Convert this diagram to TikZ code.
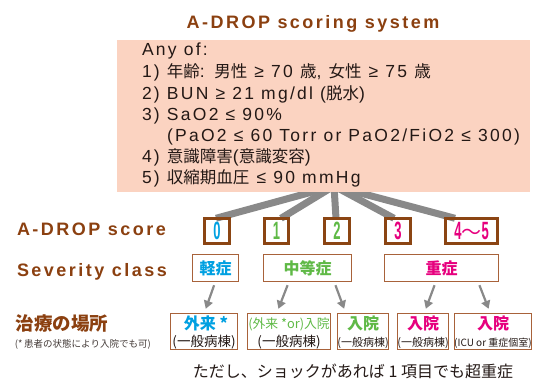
\documentclass[tikz,border=0pt]{standalone}
\usepackage{fontspec}
\usepackage{graphicx}
\setmainfont{Liberation Sans}
\newfontfamily\cjk{Noto Sans CJK JP}
\newfontfamily\bodyfont[LetterSpace=13]{Liberation Sans}
\newfontfamily\labfont[LetterSpace=13.8]{Liberation Sans Bold}
\usetikzlibrary{arrows.meta,backgrounds}
\definecolor{lbrown}{RGB}{139,64,16}
\definecolor{sbrown}{RGB}{139,69,19}
\definecolor{bbrown}{RGB}{168,98,58}
\definecolor{salmon}{RGB}{251,211,193}
\definecolor{fangray}{RGB}{137,137,137}
\definecolor{cy}{RGB}{0,160,225}
\definecolor{gr}{RGB}{95,185,70}
\definecolor{mg}{RGB}{230,0,126}
\definecolor{ink}{RGB}{35,24,21}
\newcommand\J[1]{{\cjk\fontsize{16.5}{16.5}\selectfont #1}}
\newcommand\dig[1]{\fontsize{25}{25}\selectfont\scalebox{0.52}[1]{\bfseries #1}}
\begin{document}
\begin{tikzpicture}[x=1pt,y=-1pt,
  every node/.style={inner sep=0pt, outer sep=0pt},
  scorebox/.style={draw=sbrown, line width=2.6pt, minimum height=25.4pt},
  sevbox/.style={draw=bbrown, line width=1.4pt, minimum height=26.6pt},
  outbox/.style={draw=bbrown, line width=1.4pt, minimum height=35.6pt},
  fan/.style={draw=fangray, line width=7pt},
  arr/.style={draw=fangray, line width=2.2pt, -{Triangle[length=8pt,width=9pt]},
    shorten <=4.2pt, shorten >=5.2pt},
  crit/.style={anchor=base west, text=ink, font=\bodyfont\fontsize{17.5}{17.5}\selectfont},
  lab/.style={anchor=base west, text=lbrown, font=\labfont\fontsize{18}{18}\selectfont},
  sevtext/.style={font=\cjk\bfseries\fontsize{16}{16}\selectfont},
]
\path[use as bounding box] (0,0) rectangle (544,380);

% title
\node[lab, anchor=base] (title) at (313,28.5) {A-DROP scoring system};

% score boxes
\node[scorebox, minimum width=25.4pt, text=cy] (s0) at (217,231) {\dig{0}};
\node[scorebox, minimum width=24.4pt, text=gr] (s1) at (276.5,231) {\dig{1}};
\node[scorebox, minimum width=25.4pt, text=gr] (s2) at (337,231) {\dig{2}};
\node[scorebox, minimum width=25.4pt, text=mg] (s3) at (398,231) {\dig{3}};
\node[scorebox, minimum width=52.4pt, text=mg] (s45) at (471.5,231)
  {\dig{4}{\cjk\fontsize{20}{20}\selectfont ～}\dig{5}};

% fan lines
\coordinate (hub) at (334,186);
\begin{scope}[on background layer]
\draw[fan] (hub) -- ([xshift=-1pt]s0.north);
\draw[fan] (hub) -- ([xshift=4.5pt]s1.north);
\draw[fan] (hub) -- ([xshift=-1pt]s2.north);
\draw[fan] (hub) -- ([xshift=-4pt]s3.north);
\draw[fan] (hub) -- ([xshift=-16.5pt]s45.north);
\end{scope}

% criteria box
\node[fill=salmon, minimum width=413pt, minimum height=152pt, anchor=north west] (box) at (117,40) {};
\node[crit] (c0) at (142,56) {Any of:};
\node[crit] (c1) at (142,77) {1) \J{年齢}: \J{男性} ≥ 70 \J{歳}, \J{女性} ≥ 75 \J{歳}};
\node[crit] (c2) at (142,99) {2) BUN ≥ 21 mg/dl (\J{脱水})};
\node[crit] (c3) at (142,120) {3) SaO2 ≤ 90\%};
\node[crit] (c3b) at (167,141) {(PaO2 ≤ 60 Torr or PaO2/FiO2 ≤ 300)};
\node[crit] (c4) at (142,162) {4) \J{意識障害}(\J{意識変容})};
\node[crit] (c5) at (142,183) {5) \J{収縮期血圧} ≤ 90 mmHg};

% row labels
\node[lab] (lscore) at (17,235) {A-DROP score};
\node[lab] (lsev) at (17,276) {Severity class};
\node[anchor=west, text=lbrown, font=\cjk\bfseries\fontsize{18.5}{18.5}\selectfont] (lplace) at (16,323.5) {治療の場所};
\node[anchor=west, text=ink!85, font=\cjk\fontsize{9.5}{9.5}\selectfont] (lnote) at (15,344) {(*\,患者の状態により入院でも可)};

% severity boxes
\node[sevbox, minimum width=45.6pt, text=cy, sevtext] (mild) at (215.5,268) {軽症};
\node[sevbox, minimum width=87.6pt, text=gr, sevtext] (mod) at (307.5,268) {中等症};
\node[sevbox, minimum width=113.6pt, text=mg, sevtext] (sev) at (441.5,268) {重症};

% outcome boxes
\node[outbox, minimum width=66.6pt] (o1) at (204,331.5) {};
\node[outbox, minimum width=82.6pt] (o2) at (289,331.5) {};
\node[outbox, minimum width=50.6pt] (o3) at (363,331.5) {};
\node[outbox, minimum width=50.6pt] (o4) at (423,331.5) {};
\node[outbox, minimum width=76.6pt] (o5) at (493,331.5) {};

\tikzset{top/.style={anchor=base, font=\cjk\bfseries\fontsize{16}{16}\selectfont},
         bot/.style={anchor=base, text=ink, font=\cjk\fontsize{13.5}{13.5}\selectfont}}
\node[top, text=cy] (o1a) at (206,329) {外来 *};
\node[top, text=gr, font=\cjk\fontsize{12.8}{12.8}\selectfont] (o2a) at (289,328) {(外来 *or)入院};
\node[top, text=gr] (o3a) at (363,329) {入院};
\node[top, text=mg] (o4a) at (423,329) {入院};
\node[top, text=mg] (o5a) at (493,329) {入院};
\node[bot] (o1b) at (204,346.5) {(一般病棟)};
\node[bot] (o2b) at (289,346.5) {(一般病棟)};
\node[bot, font=\cjk\fontsize{11}{11}\selectfont] (o3b) at (363,346) {(一般病棟)};
\node[bot, font=\cjk\fontsize{11}{11}\selectfont] (o4b) at (423,346) {(一般病棟)};
\node[bot, font=\cjk\fontsize{10}{10}\selectfont] (o5b) at (493,346) {(ICU or 重症個室)};

% arrows
\draw[arr] (mild.south) -- (o1.north);
\draw[arr] ([xshift=-18.4pt]mod.south) -- ([xshift=-12.5pt]o2.north);
\draw[arr] ([xshift=26.5pt]mod.south) -- ([xshift=-17pt]o3.north);
\draw[arr] ([xshift=-5.5pt]sev.south) -- ([xshift=1pt]o4.north);
\draw[arr] ([xshift=36.4pt]sev.south) -- ([xshift=-2.5pt]o5.north);

% footnote
\node[anchor=base, text=ink, font=\cjk\fontsize{16}{16}\selectfont] (foot) at (353,377) {ただし、ショックがあれば 1 項目でも超重症};
\end{tikzpicture}
\end{document}
